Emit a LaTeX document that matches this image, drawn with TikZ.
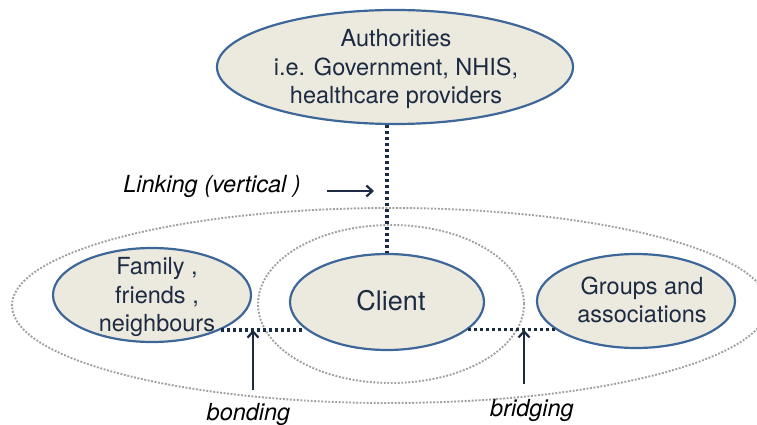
\documentclass[tikz,border=0pt]{standalone}
\usepackage{fontspec}
\setmainfont{TeX Gyre Heros}
\usetikzlibrary{shapes.geometric,arrows.meta}
\definecolor{fillbeige}{HTML}{ECEADF}
\definecolor{borderblue}{HTML}{3D6699}
\definecolor{navy}{HTML}{1C2A42}
\definecolor{dotgray}{HTML}{A0A0A0}
\tikzset{
  bubble/.style={ellipse, draw=borderblue, line width=2.2pt, fill=fillbeige, inner sep=0pt},
  btext/.style={align=center, text=navy, font=\fontsize{23.5}{28.5}\selectfont, inner sep=0pt},
  ring/.style={ellipse, draw=dotgray, line width=1.9pt, dash pattern=on 1.9pt off 1.6pt, inner sep=0pt},
  link/.style={draw=navy, line width=3.3pt, dash pattern=on 3.3pt off 2.7pt},
  arr/.style={draw=navy, line width=2.2pt, -{Straight Barb[length=6pt,width=11pt,line width=2.2pt]}},
  lbl/.style={font=\fontsize{23.5}{28}\selectfont\itshape, text=black, inner sep=0pt, anchor=base}
}
\begin{document}
\begin{tikzpicture}[x=1pt,y=-1pt]
\useasboundingbox (0,0) rectangle (757,425);
% dotted rings
\node[ring, minimum width=756pt, minimum height=195pt] (outer) at (390,305.5) {};
\node[ring, minimum width=266pt, minimum height=158pt] (inner) at (391,304) {};
% bubbles
\node[bubble, minimum width=356pt, minimum height=114pt] (auth) at (395,67) {};
\node[bubble, minimum width=198pt, minimum height=94pt] (family) at (152,295) {};
\node[bubble, minimum width=194pt, minimum height=96pt] (client) at (387,302) {};
\node[bubble, minimum width=198pt, minimum height=94pt] (groups) at (636,301) {};
% texts
\node[btext] (authtext) at (396,69) {Authorities\\i.e. Government, NHIS,\\healthcare providers};
\node[btext] (familytext) at (157,297) {Family ,\\friends ,\\neighbours};
\node[btext, font=\fontsize{27}{32}\selectfont, anchor=base] (clienttext) at (391,310) {Client};
\node[btext] (groupstext) at (642,300) {Groups and\\associations};
% dotted connectors
\draw[link] (client.north |- auth.south) -- (client.north);
\draw[link] (family.333) -- (family.333 -| client.197);
\draw[link] (client.341) -- (client.341 -| groups.199);
% labels and arrows
\node[lbl] (linking) at (212,192) {Linking (vertical )};
\node[lbl] (bonding) at (248.5,420) {bonding};
\node[lbl] (bridging) at (532,416) {bridging};
\coordinate (linktail) at (327,191);
\coordinate (linkhead) at (374,191);
\draw[arr] (linktail) -- (linkhead);
\coordinate (bondtail) at (253,390);
\draw[arr] (bondtail) -- (bondtail |- family.333);
\coordinate (bridgetail) at (524,384);
\draw[arr] (bridgetail) -- (bridgetail |- client.341);
\end{tikzpicture}
\end{document}
